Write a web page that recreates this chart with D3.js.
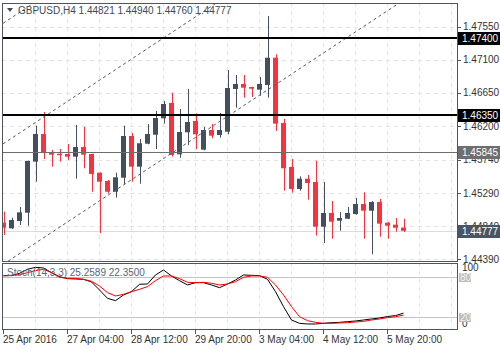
<!DOCTYPE html>
<html>
<head>
<meta charset="utf-8">
<script src="https://cdn.jsdelivr.net/npm/d3@7/dist/d3.min.js"></script>
<style>
  html, body { margin: 0; padding: 0; background: #ffffff; }
  svg { display: block; }
  text { font-family: "Liberation Sans", Arial, sans-serif; }
</style>
</head>
<body>
<svg id="chart" width="500" height="350"></svg>
<script>
// GBPUSD H4 candles
const symbol = "GBPUSD", period = "H4";
const open  = [1.44887,1.44811,1.44910,1.45023,1.45716,1.46092,1.45838,1.45824,1.45820,1.45784,
               1.45915,1.45820,1.45566,1.45454,1.45308,1.45498,1.46065,1.45648,1.45960,1.46082,
               1.46305,1.46513,1.45816,1.46115,1.46269,1.45879,1.46146,1.46078,1.46123,1.46703,
               1.46771,1.46730,1.46694,1.46758,1.47128,1.46241,1.45644,1.45345,1.45485,1.45440,
               1.44833,1.45019,1.44914,1.44941,1.45005,1.45141,1.45050,1.45168,1.44887,1.44860,
               1.44821];
const high  = [1.45037,1.44955,1.45100,1.45730,1.46205,1.46391,1.45875,1.45888,1.45956,1.46214,
               1.46187,1.45825,1.45570,1.45467,1.45566,1.46205,1.46106,1.46024,1.46228,1.46404,
               1.46540,1.46653,1.46431,1.46703,1.46373,1.46187,1.46228,1.46377,1.46961,1.46893,
               1.46893,1.46735,1.46866,1.47695,1.47175,1.46296,1.45752,1.45517,1.45535,1.45729,
               1.45440,1.45182,1.45032,1.45100,1.45223,1.45300,1.45182,1.45209,1.44897,1.44951,
               1.44940];
const low   = [1.44720,1.44802,1.44856,1.44846,1.45444,1.45752,1.45648,1.45716,1.45739,1.45485,
               1.45626,1.45308,1.44747,1.45286,1.45227,1.45409,1.45444,1.45417,1.45952,1.45888,
               1.46232,1.45784,1.45770,1.45943,1.45888,1.45870,1.46034,1.46042,1.46088,1.46449,
               1.46585,1.46595,1.46612,1.46585,1.46133,1.45322,1.45295,1.45322,1.45200,1.44711,
               1.44611,1.44670,1.44778,1.44935,1.44996,1.44670,1.44458,1.44697,1.44670,1.44765,
               1.44760];
const close = [1.44819,1.44924,1.45028,1.45725,1.46092,1.45843,1.45811,1.45816,1.45784,1.45915,
               1.45811,1.45549,1.45444,1.45308,1.45504,1.46065,1.45648,1.45966,1.46092,1.46309,
               1.46499,1.45807,1.46119,1.46255,1.46088,1.46146,1.46069,1.46146,1.46717,1.46771,
               1.46721,1.46707,1.46771,1.47128,1.46232,1.45626,1.45345,1.45485,1.45426,1.44833,
               1.45019,1.44901,1.44951,1.45019,1.45141,1.45050,1.45168,1.44874,1.44846,1.44819,
               1.44777];

// Stochastic (14,3,3)
const stochMain   = [81.5,81.5,85,91,94,93,86,80,77,76.5,76,72,60,47.5,44,52.5,57.5,68.5,69,82.5,
                     90,81,74,67.5,71,71,67.5,63.5,69,75,82.5,82,81.5,76,57.5,35,15,10,9,9,
                     10,11,11.5,12.5,13.5,15,16.5,18,20.2,21.6,25.2589];
const stochSignal = [81,82,83,86,89,91,86,79,77.5,77.5,76,73,66,56,51,53.5,57.5,61,65,74,
                     81,81,77,71.5,71,71.5,70,67.5,69,72.5,79,81,81,79,67.5,52.5,35,20,14,11.5,
                     10,10,10.5,11,12,13,15,16.5,18.5,19.9,22.35];
const stochLevels = [80, 20];

// Time axis
const timeLabels = ["25 Apr 2016","27 Apr 04:00","28 Apr 12:00","29 Apr 20:00","3 May 04:00","4 May 12:00","5 May 20:00"];
const timeLabelBars = [0, 8, 16, 24, 32, 40, 48];

// Price axis
const priceTicks = [1.47550,1.47100,1.46650,1.46200,1.45740,1.45290,1.44840,1.44390];

// Horizontal levels and the parallel dashed channel
const levelPrices = [1.47400, 1.46350, 1.45845];
const levelKinds  = ["major", "major", "minor"];
const channelBars = [0, 50];
const channelUpper  = [1.47604, 1.51190];
const channelMiddle = [1.45966, 1.49552];
const channelLower  = [1.44328, 1.47914];

const svg = d3.select("#chart");
const L = 2, R = 457;
const mainTop = 3, mainBottom = 261;
const stTop = 263, stBottom = 329;
const bull = "#434f5f", bear = "#f5333f";
const axisText = "#333333";

const x = d3.scaleLinear().domain([-0.5, 56.5]).range([0, 456]);
const y = d3.scaleLinear().domain([1.44367, 1.47871]).range([mainBottom, mainTop]);
const ys = d3.scaleLinear().domain([0, 100]).range([330, 263.3]);
const px = v => Math.round(v) + 0.5;

svg.append("defs").append("clipPath").attr("id", "mainClip")
  .append("rect").attr("x", L).attr("y", mainTop).attr("width", R - L).attr("height", mainBottom - mainTop);
svg.select("defs").append("clipPath").attr("id", "stClip")
  .append("rect").attr("x", L).attr("y", stTop).attr("width", R - L).attr("height", stBottom - stTop);

const gridBars = d3.range(4, 57, 4);

// main pane grid
const gMain = svg.append("g").attr("clip-path", "url(#mainClip)");
gMain.selectAll("line.hg").data(priceTicks).join("line")
  .attr("x1", L).attr("x2", R)
  .attr("y1", d => px(y(d))).attr("y2", d => px(y(d)))
  .attr("stroke", "#e3e3e3").attr("stroke-dasharray", "4,4");
gMain.selectAll("line.vg").data(gridBars).join("line")
  .attr("x1", d => px(x(d) - 1)).attr("x2", d => px(x(d) - 1))
  .attr("y1", mainTop).attr("y2", mainBottom)
  .attr("stroke", "#e3e3e3").attr("stroke-dasharray", "4,4");

// bid line
gMain.append("line")
  .attr("x1", L).attr("x2", R)
  .attr("y1", px(y(close[close.length - 1]))).attr("y2", px(y(close[close.length - 1])))
  .attr("stroke", "#dcdcdc");

// candles
const idx = d3.range(open.length);
const gC = gMain.append("g");
gC.selectAll("line.wick").data(idx).join("line")
  .attr("x1", i => px(x(i) - 0.5)).attr("x2", i => px(x(i) - 0.5))
  .attr("y1", i => y(high[i])).attr("y2", i => y(low[i]))
  .attr("stroke", i => close[i] >= open[i] ? bull : bear).attr("stroke-width", 1);
gC.selectAll("rect.body").data(idx).join("rect")
  .attr("x", i => Math.round(x(i)) - 3)
  .attr("width", 5)
  .attr("y", i => y(Math.max(open[i], close[i])))
  .attr("height", i => Math.max(1.5, Math.abs(y(open[i]) - y(close[i]))))
  .attr("fill", i => close[i] >= open[i] ? bull : bear);

// dashed channel
const slopeLine = (p) => {
  const t = d3.scaleLinear().domain(channelBars).range(p);
  return [[x(-2), y(t(-2))], [x(58), y(t(58))]];
};
[channelUpper, channelMiddle, channelLower].forEach(p => {
  const pts = slopeLine(p);
  gMain.append("line")
    .attr("x1", pts[0][0]).attr("y1", pts[0][1])
    .attr("x2", pts[1][0]).attr("y2", pts[1][1])
    .attr("stroke", "#5a5a5a").attr("stroke-width", 1).attr("stroke-dasharray", "3,3");
});

// horizontal levels
levelPrices.forEach((p, k) => {
  const major = levelKinds[k] === "major";
  gMain.append("line")
    .attr("x1", L).attr("x2", R)
    .attr("y1", major ? Math.round(y(p)) : px(y(p)))
    .attr("y2", major ? Math.round(y(p)) : px(y(p)))
    .attr("stroke", major ? "#000000" : "#6e6e6e")
    .attr("stroke-width", major ? 2 : 1);
});

// header
svg.append("path").attr("d", "M7,8 L13,8 L10,12 Z").attr("fill", "#3d4a57");
const last = open.length - 1;
svg.append("text").attr("x", 18).attr("y", 14)
  .attr("font-size", 10).attr("fill", "#3d4a57")
  .text(`${symbol},${period}  ${open[last].toFixed(5)} ${high[last].toFixed(5)} ${low[last].toFixed(5)} ${close[last].toFixed(5)}`);

// stochastic pane
const gSt = svg.append("g").attr("clip-path", "url(#stClip)");
gSt.selectAll("line.vg").data(gridBars).join("line")
  .attr("x1", d => px(x(d) - 1)).attr("x2", d => px(x(d) - 1))
  .attr("y1", stTop).attr("y2", stBottom)
  .attr("stroke", "#e3e3e3").attr("stroke-dasharray", "4,4");
gSt.selectAll("line.lv").data(stochLevels).join("line")
  .attr("x1", L).attr("x2", R)
  .attr("y1", d => px(ys(d))).attr("y2", d => px(ys(d)))
  .attr("stroke", "#c4c4c4");
const lineGen = d3.line().x((d, i) => x(i) - 0.5).y(d => ys(d));
gSt.append("path").datum(stochMain).attr("d", lineGen)
  .attr("fill", "none").attr("stroke", "#000000").attr("stroke-width", 1);
gSt.append("path").datum(stochSignal).attr("d", lineGen)
  .attr("fill", "none").attr("stroke", "#ff0000").attr("stroke-width", 1);
svg.append("text").attr("x", 7).attr("y", 276)
  .attr("font-size", 10).attr("fill", "#56677a")
  .text(`Stoch(14,3,3) ${stochMain[last].toFixed(4)} ${stochSignal[last].toFixed(4)}`);

// pane borders
const border = "#4d5560";
svg.append("rect").attr("x", L + 0.5).attr("y", mainTop + 0.5)
  .attr("width", R - L).attr("height", mainBottom - mainTop)
  .attr("fill", "none").attr("stroke", border);
svg.append("rect").attr("x", L + 0.5).attr("y", stTop + 0.5)
  .attr("width", R - L).attr("height", stBottom - stTop)
  .attr("fill", "none").attr("stroke", border);

// price axis
const gAx = svg.append("g");
gAx.selectAll("line.tk").data(priceTicks).join("line")
  .attr("x1", R + 0.5).attr("x2", R + 4)
  .attr("y1", d => px(y(d))).attr("y2", d => px(y(d)))
  .attr("stroke", border);
gAx.selectAll("text.tk").data(priceTicks).join("text")
  .attr("x", 463).attr("y", d => y(d) + 3.5)
  .attr("font-size", 10).attr("fill", axisText)
  .text(d => d.toFixed(5));

// tagged price boxes
const tag = (val, yy, bg, fg) => {
  gAx.append("rect").attr("x", 458).attr("y", Math.round(yy) - 6).attr("width", 42).attr("height", 13).attr("fill", bg);
  gAx.append("text").attr("x", 462).attr("y", Math.round(yy) + 4)
    .attr("font-size", 10).attr("fill", fg).text(val.toFixed(5));
};
levelPrices.forEach((p, k) => tag(p, y(p), levelKinds[k] === "major" ? "#000000" : "#6e6e6e", "#ffffff"));
tag(close[last], y(close[last]), "#4a5563", "#ffffff");

// stochastic axis
svg.append("text").attr("x", 462).attr("y", 271).attr("font-size", 10).attr("fill", axisText).text("100");
svg.append("text").attr("x", 462).attr("y", 327).attr("font-size", 10).attr("fill", axisText).text("0");
stochLevels.forEach(v => {
  svg.append("rect").attr("x", 459).attr("y", Math.round(ys(v)) - 4).attr("width", 12).attr("height", 9).attr("fill", "#bdbdbd");
  svg.append("text").attr("x", 460).attr("y", Math.round(ys(v)) + 4)
    .attr("font-size", 10).attr("fill", "#f2f2f2").text(v);
});

// time axis
svg.selectAll("line.tt").data(timeLabelBars).join("line")
  .attr("x1", d => px(x(d) - 1)).attr("x2", d => px(x(d) - 1))
  .attr("y1", stBottom + 1).attr("y2", stBottom + 5)
  .attr("stroke", border);
svg.selectAll("text.tt").data(timeLabels).join("text")
  .attr("x", (d, i) => Math.round(x(timeLabelBars[i])) - 1)
  .attr("y", 343)
  .attr("font-size", 10).attr("fill", axisText)
  .text(d => d);
</script>
</body>
</html>
